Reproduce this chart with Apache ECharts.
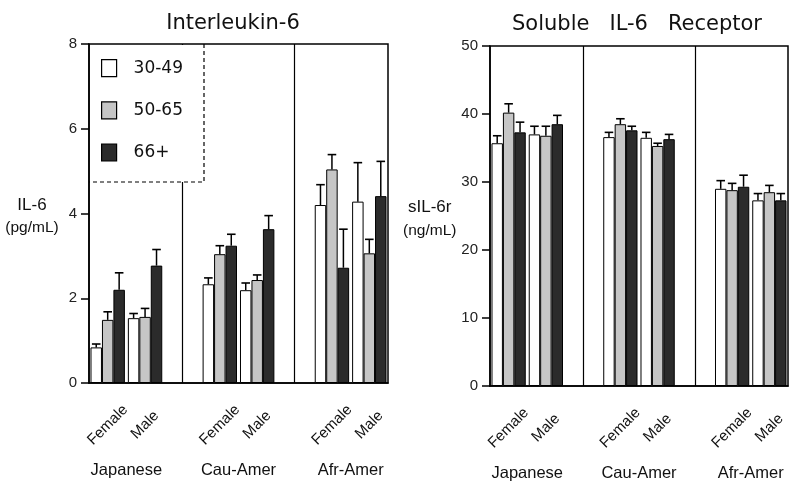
<!DOCTYPE html>
<html><head><meta charset="utf-8">
<script src="https://cdn.jsdelivr.net/npm/echarts@6/dist/echarts.min.js"></script>
<style>html,body{margin:0;padding:0;background:#fff}#c{width:800px;height:493px}</style>
</head><body><div id="c"></div>
<script>
// ---- data ----
const sexLabels = ['Female', 'Male'];
const groupLabels = ['Japanese', 'Cau-Amer', 'Afr-Amer'];
const ageGroups = ['30-49', '50-65', '66+'];

// order: Japanese F, Japanese M, Cau-Amer F, Cau-Amer M, Afr-Amer F, Afr-Amer M
const il6_30_49 = [0.84, 1.53, 2.33, 2.19, 4.20, 4.28];
const il6_50_65 = [1.49, 1.56, 3.04, 2.43, 5.04, 3.06];
const il6_66 = [2.20, 2.77, 3.24, 3.63, 2.72, 4.41];
const il6_30_49_se = [0.08, 0.11, 0.15, 0.17, 0.48, 0.92];
const il6_50_65_se = [0.19, 0.20, 0.20, 0.12, 0.35, 0.33];
const il6_66_se = [0.40, 0.38, 0.27, 0.32, 0.91, 0.82];

const sil6r_30_49 = [35.7, 37.0, 36.6, 36.5, 29.0, 27.3];
const sil6r_50_65 = [40.2, 36.8, 38.5, 35.3, 28.8, 28.5];
const sil6r_66 = [37.3, 38.5, 37.6, 36.3, 29.3, 27.3];
const sil6r_30_49_se = [1.1, 1.2, 0.7, 0.8, 1.2, 1.0];
const sil6r_50_65_se = [1.3, 1.4, 0.8, 0.4, 1.0, 1.0];
const sil6r_66_se = [1.5, 1.3, 0.6, 0.7, 1.7, 1.0];

const il6Axis = {min: 0, max: 8, interval: 2};
const sil6rAxis = {min: 0, max: 50, interval: 10};

// ---- build ----
const xCats = [];
const catIndexOf = [];
groupLabels.forEach((g, gi) => {
  sexLabels.forEach(s => { catIndexOf.push(xCats.length); xCats.push(s); });
  if (gi < groupLabels.length - 1) xCats.push('');
});
const gapIdx = xCats.map((c, i) => c === '' ? i : -1).filter(i => i >= 0);
const groupAxisData = new Array(xCats.length + 1).fill('');
groupLabels.forEach((g, gi) => { groupAxisData[catIndexOf[gi * 2 + 1]] = g; });

const colors = ['#ffffff', '#c6c6c6', '#2b2b2b'];
const BAR_CAT_GAP = 0.08;

function toCats(vals) {
  const arr = xCats.map(() => '-');
  vals.forEach((v, i) => { arr[catIndexOf[i]] = v; });
  return arr;
}
function errData(valsList, seList) {
  const out = [];
  valsList.forEach((vals, k) => vals.forEach((v, i) => out.push([catIndexOf[i], v, seList[k][i], k])));
  return out;
}
function errRender(params, api) {
  const cat = api.value(0), v = api.value(1), se = api.value(2), k = api.value(3);
  const band = api.size([1, 0])[0];
  const bw = band * (1 - BAR_CAT_GAP) / 3;
  const base = api.coord([cat, v]);
  const top = api.coord([cat, v + se]);
  const x = base[0] + (k - 1) * bw;
  const cw = bw * 0.75;
  return {type: 'group', children: [
    {type: 'line', shape: {x1: x, y1: base[1], x2: x, y2: top[1]}, style: {stroke: '#000', lineWidth: 1.5}},
    {type: 'line', shape: {x1: x - cw / 2, y1: top[1], x2: x + cw / 2, y2: top[1]}, style: {stroke: '#000', lineWidth: 1.6}}
  ]};
}

const FONT = 'DejaVu Sans';
const LABFONT = 'Liberation Sans';

function xAxesFor(gi) {
  return [{
    type: 'category', gridIndex: gi, data: xCats,
    axisLine: {lineStyle: {color: '#000', width: 1.5}},
    axisTick: {alignWithLabel: true, length: 7, lineStyle: {color: '#000', width: 1.5}, interval: 0},
    axisLabel: {interval: 0, rotate: 45, align: 'center', verticalAlign: 'middle', margin: 42,
      fontFamily: LABFONT, fontSize: 15, color: '#111'}
  }, {
    type: 'category', gridIndex: gi, data: groupAxisData, boundaryGap: false, position: 'bottom', offset: 70,
    axisLine: {show: false}, axisTick: {show: false},
    axisLabel: {interval: 0, margin: 9, fontFamily: LABFONT, fontSize: 16.5, color: '#111'}
  }];
}
function yAxisFor(gi, ax, nm1, nm2, gap) {
  return {
    type: 'value', gridIndex: gi, min: ax.min, max: ax.max, interval: ax.interval,
    name: '{a|' + nm1 + '}\n{b|' + nm2 + '}', nameLocation: 'middle', nameRotate: 0, nameGap: gap,
    nameTextStyle: {align: 'center', verticalAlign: 'middle', color: '#111', padding: [6, 0, 0, 0],
      rich: {a: {fontFamily: LABFONT, fontSize: 17, lineHeight: 23, color: '#111'},
             b: {fontFamily: LABFONT, fontSize: 15.5, lineHeight: 23, color: '#111'}}},
    axisLine: {show: true, lineStyle: {color: '#000', width: 1.5}},
    axisTick: {show: true, length: 8, lineStyle: {color: '#000', width: 1.5}},
    axisLabel: {margin: 12, fontFamily: LABFONT, fontSize: 15, color: '#222'},
    splitLine: {show: false}
  };
}
function seriesFor(gi, valsList, seList) {
  const s = valsList.map((vals, k) => ({
    type: 'bar', name: ageGroups[k], xAxisIndex: gi * 2, yAxisIndex: gi,
    data: toCats(vals), barGap: '0%', barCategoryGap: (BAR_CAT_GAP * 100) + '%',
    itemStyle: {color: colors[k], borderColor: '#000', borderWidth: 1},
    emphasis: {disabled: true}, silent: true
  }));
  s.push({type: 'custom', name: 'err' + gi, xAxisIndex: gi * 2, yAxisIndex: gi, z: 3,
    renderItem: errRender, data: errData(valsList, seList), encode: {x: 0, y: 1}, silent: true,
    markLine: {symbol: 'none', silent: true, label: {show: false},
      lineStyle: {color: '#000', type: 'solid', width: 1.2},
      data: gapIdx.map(i => ({xAxis: i}))}});
  return s;
}

const chart = echarts.init(document.getElementById('c'), null, {renderer: 'canvas'});
chart.setOption({
  animation: false,
  backgroundColor: '#fff',
  title: [
    {text: 'Interleukin-6', left: 233, top: 13, textAlign: 'center', padding: 0,
     textStyle: {fontFamily: FONT, fontSize: 21, fontWeight: 'normal', color: '#111'}},
    {text: 'Soluble   IL-6   Receptor', left: 637, top: 14, textAlign: 'center', padding: 0,
     textStyle: {fontFamily: FONT, fontSize: 21, fontWeight: 'normal', color: '#111'}}
  ],
  grid: [
    {left: 89, top: 44, width: 299, height: 339, show: true, borderColor: '#000', borderWidth: 1.5, backgroundColor: 'transparent'},
    {left: 490, top: 46, width: 298, height: 340, show: true, borderColor: '#000', borderWidth: 1.5, backgroundColor: 'transparent'}
  ],
  legend: {
    data: ageGroups, orient: 'vertical', left: 101, top: 59, padding: 0,
    itemWidth: 15, itemHeight: 17, itemGap: 24, z: 10, selectedMode: false, icon: 'rect',
    itemStyle: {borderColor: '#000', borderWidth: 1.2},
    formatter: '{t|{name}}',
    textStyle: {fontFamily: FONT, fontSize: 17, color: '#111',
      rich: {t: {fontFamily: FONT, fontSize: 17, color: '#111', padding: [0, 0, 0, 12]}}}
  },
  graphic: [
    {type: 'rect', z: 6, shape: {x: 90, y: 45, width: 114, height: 137}, style: {fill: '#fff'}},
    {type: 'polyline', z: 7, shape: {points: [[204, 44], [204, 182], [89, 182]]},
     style: {stroke: '#000', lineWidth: 1.2, lineDash: [4, 3], fill: null}}
  ],
  xAxis: [].concat(xAxesFor(0), xAxesFor(1)),
  yAxis: [
    yAxisFor(0, il6Axis, 'IL-6', '(pg/mL)', 57),
    yAxisFor(1, sil6rAxis, 'sIL-6r', '(ng/mL)', 53)
  ],
  series: [].concat(
    seriesFor(0, [il6_30_49, il6_50_65, il6_66], [il6_30_49_se, il6_50_65_se, il6_66_se]),
    seriesFor(1, [sil6r_30_49, sil6r_50_65, sil6r_66], [sil6r_30_49_se, sil6r_50_65_se, sil6r_66_se])
  )
});
</script>
</body></html>
